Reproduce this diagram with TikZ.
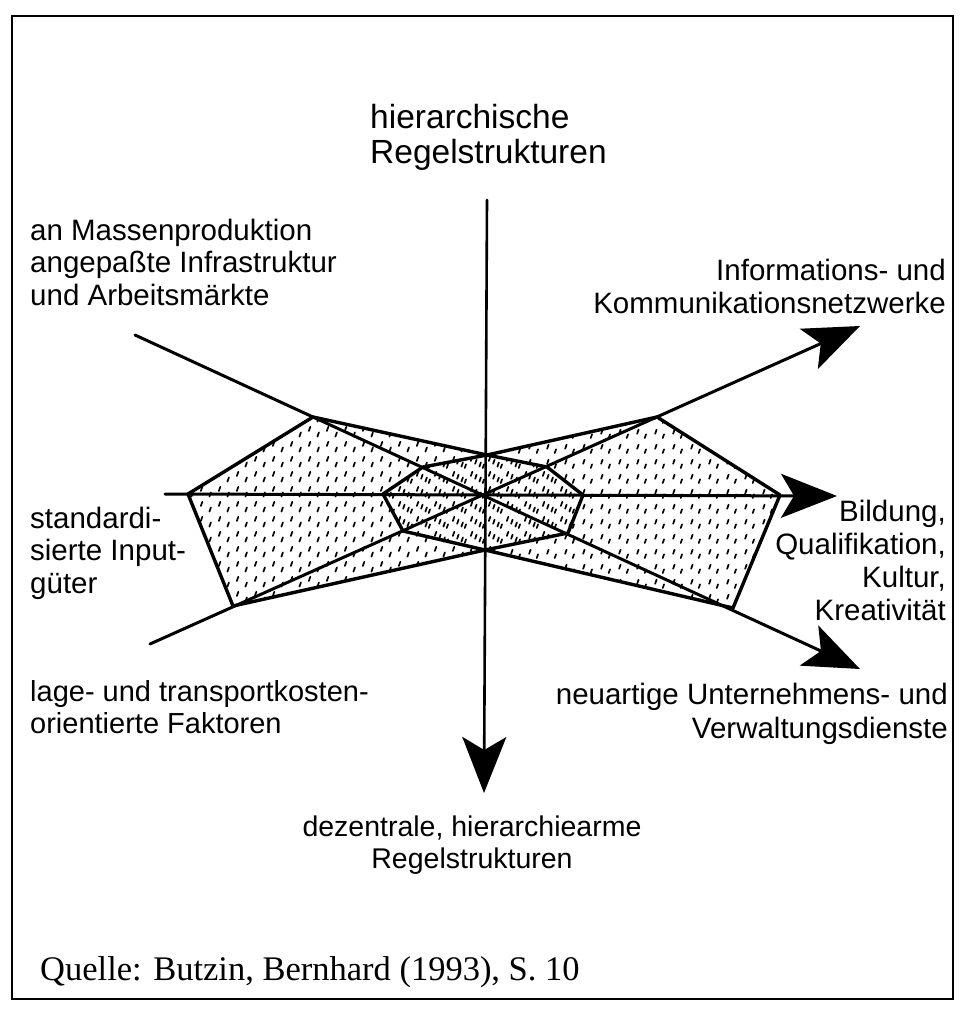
\documentclass[tikz,border=0pt]{standalone}
\usepackage{fontspec}
\setmainfont{Liberation Sans}
\newfontfamily\serifq{Liberation Serif}
\usetikzlibrary{arrows.meta,patterns}

\pgfdeclarepatternformonly{marksA}{\pgfqpoint{0pt}{0pt}}{\pgfqpoint{18pt}{15pt}}{\pgfqpoint{18pt}{15pt}}{%
  \pgfsetlinewidth{1.8pt}%
  \pgfsetroundcap
  \pgfpathmoveto{\pgfqpoint{3pt}{8.5pt}}\pgfpathlineto{\pgfqpoint{4.6pt}{13pt}}%
  \pgfpathmoveto{\pgfqpoint{12pt}{2.5pt}}\pgfpathlineto{\pgfqpoint{13.6pt}{7pt}}%
  \pgfusepath{stroke}}
\pgfdeclarepatternformonly{marksB}{\pgfqpoint{0pt}{0pt}}{\pgfqpoint{18pt}{15pt}}{\pgfqpoint{18pt}{15pt}}{%
  \pgfsetlinewidth{1.8pt}%
  \pgfsetroundcap
  \pgfpathmoveto{\pgfqpoint{7.5pt}{5.5pt}}\pgfpathlineto{\pgfqpoint{9.1pt}{10pt}}%
  \pgfpathmoveto{\pgfqpoint{15.5pt}{1pt}}\pgfpathlineto{\pgfqpoint{16.9pt}{5pt}}%
  \pgfusepath{stroke}}

\begin{document}
\begin{tikzpicture}[x=1pt,y=-1pt,
  axisline/.style={line width=3pt, line cap=round},
  polyedge/.style={line width=3.4pt, line join=round, line cap=round},
  bigarrow/.style={-{Stealth[length=56pt,width=44pt,inset=13pt]}},
  lbl/.style={inner sep=0pt, font=\fontsize{29.5}{32.5}\selectfont},
]
\useasboundingbox (0,0) rectangle (961,1009);
\fill[white] (0,0) rectangle (961,1009);

% frame
\draw[line width=2.5pt] (12,16) rectangle (953,999);

% axis end points
\coordinate (O) at (486,495);
\coordinate (Tt) at (487,200);
\coordinate (Bt) at (484,793);
\coordinate (Ls) at (165,494);
\coordinate (Rt) at (837,496);
\coordinate (ULs) at (135,335);
\coordinate (LRt) at (860,669);
\coordinate (LLs) at (150,644);
\coordinate (URt) at (860,326);

% profile vertices
\coordinate (ULo) at (313,417);
\coordinate (ULi) at (423,467);
\coordinate (Lo) at (188,494);
\coordinate (Li) at (383,494);
\coordinate (LLo) at (233,606);
\coordinate (LLi) at (403,531);
\coordinate (URo) at (657,417);
\coordinate (URi) at (547,467);
\coordinate (Ro) at (780,495);
\coordinate (Ri) at (583,495);
\coordinate (LRo) at (733,608);
\coordinate (LRi) at (568,533);
\coordinate (Tp) at (487,455);
\coordinate (Bp) at (485,550);

% hatching
\fill[pattern=marksA] (ULo)--(Tp)--(URi)--(Ri)--(LRi)--(Bp)--(LLo)--(Lo)--cycle;
\fill[pattern=marksB] (URo)--(Tp)--(ULi)--(Li)--(LLi)--(Bp)--(LRo)--(Ro)--cycle;

% profiles
\draw[polyedge] (ULo)--(Tp)--(URi)--(Ri)--(LRi)--(Bp)--(LLo)--(Lo)--cycle;
\draw[polyedge] (URo)--(Tp)--(ULi)--(Li)--(LLi)--(Bp)--(LRo)--(Ro)--cycle;

% axes
\draw[axisline,bigarrow] (ULs) -- (LRt);
\draw[axisline,bigarrow] (LLs) -- (URt);
\draw[axisline,bigarrow] (Ls) -- (Rt);
\draw[axisline,line width=2.6pt,bigarrow] (Tt) -- (Bt);

% labels (base anchor = baseline of the last line)
\node[lbl, font=\fontsize{33.5}{35}\selectfont, anchor=base west, align=left] (top) at (370,163) {hierarchische\\Regelstrukturen};
\node[lbl, anchor=base west, align=left] (ul) at (30,305) {an Massenproduktion\\angepaßte Infrastruktur\\und Arbeitsmärkte};
\node[lbl, font=\fontsize{29.5}{33}\selectfont, anchor=base east, align=right] (ur) at (946,313) {Informations- und\\Kommunikationsnetzwerke};
\node[lbl, anchor=base west, align=left] (l) at (30,593) {standardi-\\sierte Input-\\güter};
\node[lbl, font=\fontsize{29.5}{33}\selectfont, anchor=base east, align=right] (r) at (946,620) {Bildung,\\Qualifikation,\\Kultur,\\Kreativität};
\node[lbl, font=\fontsize{29}{32}\selectfont, anchor=base west, align=left] (ll) at (30,733) {lage- und transportkosten-\\orientierte Faktoren};
\node[lbl, font=\fontsize{29.5}{34}\selectfont, anchor=base east, align=right] (lr) at (948,738) {neuartige Unternehmens- und\\Verwaltungsdienste};
\node[lbl, font=\fontsize{28.5}{32}\selectfont, anchor=base, align=center] (bot) at (472,868) {dezentrale, hierarchiearme\\Regelstrukturen};
\node[inner sep=0pt, anchor=base west, font=\serifq\fontsize{34.5}{38}\selectfont] (src) at (40,980) {Quelle: Butzin, Bernhard (1993), S. 10};
\end{tikzpicture}
\end{document}
